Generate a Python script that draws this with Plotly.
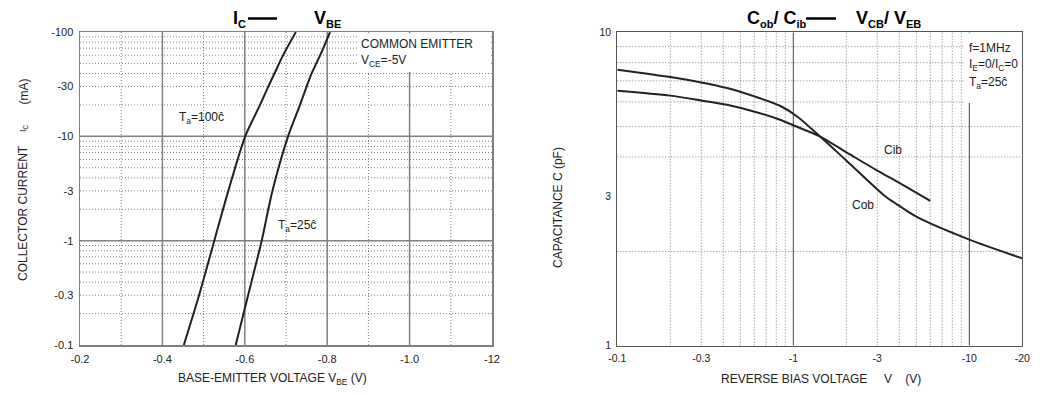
import math
import plotly.graph_objects as go

W, H = 1062, 395
FONT = "Liberation Sans, Arial, sans-serif"
INK = "#222222"

# ---------------- Left chart: Ic vs VBE ----------------
ic_ma = [-0.1, -0.3, -1, -3, -10, -20, -30, -40, -60, -100]
vbe_ta100 = [-0.452, -0.489, -0.526, -0.560, -0.601, -0.637, -0.657, -0.672, -0.693, -0.724]
vbe_ta25 = [-0.578, -0.608, -0.641, -0.667, -0.705, -0.734, -0.750, -0.762, -0.783, -0.807]

vbe_tickvals = [-0.2, -0.4, -0.6, -0.8, -1.0, -1.2]
vbe_ticktext = ["-0.2", "-0.4", "-0.6", "-0.8", "-1.0", "-12"]
ic_tickvals = [-0.1, -0.3, -1, -3, -10, -30, -100]
ic_ticktext = ["-0.1", "-0.3", "-1", "-3", "-10", "-30", "-100"]

vbe_grid_solid = [-0.4, -0.6, -0.8, -1.0]
vbe_grid_dotted = [-0.3, -0.5, -0.7, -0.9, -1.1]
ic_grid_solid = [-1, -10]
ic_grid_dotted = [-0.2, -0.3, -0.4, -0.5, -0.6, -0.7, -0.8, -0.9,
                  -2, -3, -4, -5, -6, -7, -8, -9,
                  -20, -30, -40, -50, -60, -70, -80, -90]

# ---------------- Right chart: Cob / Cib vs reverse bias ----------------
vr_cob = [-0.1, -0.2, -0.3, -0.42, -0.64, -0.84, -1.06, -1.42, -2.0, -3.3, -3.9, -5.0, -10, -20]
c_cob = [7.6, 7.2, 6.92, 6.64, 6.17, 5.83, 5.37, 4.65, 3.9, 3.01, 2.82, 2.58, 2.18, 1.9]
vr_cib = [-0.1, -0.2, -0.3, -0.42, -0.64, -0.84, -1.0, -1.42, -2.11, -3.0, -4.0, -6.0]
c_cib = [6.51, 6.28, 6.06, 5.87, 5.53, 5.26, 5.05, 4.65, 4.07, 3.62, 3.31, 2.9]

vr_tickvals = [-0.1, -0.3, -1, -3, -10, -20]
vr_ticktext = ["-0.1", "-0.3", "-1", "-3", "-10", "-20"]
c_tickvals = [1, 3, 10]
c_ticktext = ["1", "3", "10"]

vr_grid_solid = [-1, -10]
vr_grid_dotted = [-0.2, -0.3, -0.4, -0.5, -0.6, -0.7, -0.8, -0.9,
                  -2, -3, -4, -5, -6, -7, -8, -9]
c_grid_dotted = [2, 4, 5, 6, 7, 8, 9]


def px(x):
    return x / W


def py(y):
    return 1 - y / H


fig = go.Figure()

curve = dict(color=INK, width=2, shape="spline", smoothing=0.8)
fig.add_trace(go.Scatter(x=vbe_ta100, y=[-v for v in ic_ma], mode="lines",
                         line=curve, xaxis="x", yaxis="y", showlegend=False, hoverinfo="skip"))
fig.add_trace(go.Scatter(x=vbe_ta25, y=[-v for v in ic_ma], mode="lines",
                         line=curve, xaxis="x", yaxis="y", showlegend=False, hoverinfo="skip"))
fig.add_trace(go.Scatter(x=[-v for v in vr_cob], y=c_cob, mode="lines",
                         line=curve, xaxis="x2", yaxis="y2", showlegend=False, hoverinfo="skip"))
fig.add_trace(go.Scatter(x=[-v for v in vr_cib], y=c_cib, mode="lines",
                         line=curve, xaxis="x2", yaxis="y2", showlegend=False, hoverinfo="skip"))

shapes = []
DOT = dict(color="#808080", width=1, dash="1px,2px")
# left grid
for v in vbe_grid_dotted:
    shapes.append(dict(type="line", xref="x", yref="y", x0=v, x1=v, y0=0.1, y1=100,
                       line=DOT, layer="below"))
for v in ic_grid_dotted:
    shapes.append(dict(type="line", xref="x", yref="y", x0=-0.2, x1=-1.2, y0=-v, y1=-v,
                       line=DOT, layer="below"))
for v in vbe_grid_solid:
    shapes.append(dict(type="line", xref="x", yref="y", x0=v, x1=v, y0=0.1, y1=100,
                       line=dict(color="#808080", width=1.5), layer="below"))
for v in ic_grid_solid:
    shapes.append(dict(type="line", xref="x", yref="y", x0=-0.2, x1=-1.2, y0=-v, y1=-v,
                       line=dict(color="#808080", width=1.5), layer="below"))
# right grid
for v in vr_grid_dotted:
    shapes.append(dict(type="line", xref="x2", yref="y2", x0=-v, x1=-v, y0=1, y1=10,
                       line=DOT, layer="below"))
for v in c_grid_dotted:
    shapes.append(dict(type="line", xref="x2", yref="y2", x0=0.1, x1=20, y0=v, y1=v,
                       line=DOT, layer="below"))
for v in vr_grid_solid:
    shapes.append(dict(type="line", xref="x2", yref="y2", x0=-v, x1=-v, y0=1, y1=10,
                       line=dict(color="#444444", width=1), layer="below"))

# white label boxes
shapes.append(dict(type="rect", xref="paper", yref="paper", x0=px(358), x1=px(490.5),
                   y0=py(72), y1=py(33.2), fillcolor="white", line=dict(width=0), layer="above"))
shapes.append(dict(type="rect", xref="paper", yref="paper", x0=px(964), x1=px(1021.3),
                   y0=py(103), y1=py(33.2), fillcolor="white", line=dict(width=0), layer="above"))
# title dashes
shapes.append(dict(type="line", xref="paper", yref="paper", x0=px(248), x1=px(277),
                   y0=py(18.5), y1=py(18.5), line=dict(color="black", width=2.5), layer="above"))
shapes.append(dict(type="line", xref="paper", yref="paper", x0=px(806), x1=px(836),
                   y0=py(18.5), y1=py(18.5), line=dict(color="black", width=2.5), layer="above"))

ann = []


def text(x, y, s, size=12, xanchor="left", bold=False, angle=0, color=INK):
    ann.append(dict(x=px(x), y=py(y), xref="paper", yref="paper", text=s, showarrow=False,
                    xanchor=xanchor, yanchor="middle", textangle=angle,
                    font=dict(family=FONT, size=size, color=color,
                              weight="bold" if bold else "normal")))


SUBT = "<sub><span style='font-size:11px'>%s</span></sub>"

# titles
text(231, 19, "I" + SUBT % "C", size=18, bold=True, color="black")
text(312, 19, "V" + SUBT % "BE", size=18, bold=True, color="black")
text(745, 19, "C" + SUBT % "ob" + "/ C" + SUBT % "ib", size=18, bold=True, color="black")
text(854, 19, "V" + SUBT % "CB" + "/ V" + SUBT % "EB", size=18, bold=True, color="black")

# left notes
text(359, 44, "COMMON EMITTER", size=12)
text(359, 61, "V<sub>CE</sub>=-5V", size=12)
text(177, 118, "T<sub>a</sub>=100ĉ", size=12)
text(276, 226, "T<sub>a</sub>=25ĉ", size=12)

# right notes
text(967, 48, "f=1MHz", size=12)
text(967, 65, "I<sub>E</sub>=0/I<sub>C</sub>=0", size=12)
text(967, 83, "T<sub>a</sub>=25ĉ", size=12)
text(882, 150, "Cib", size=12)
text(850, 205, "Cob", size=12)

# axis titles
text(272, 379, "BASE-EMITTER VOLTAGE V<sub>BE</sub> (V)", size=12, xanchor="center")
text(821, 379, "REVERSE BIAS VOLTAGE\u00a0\u00a0\u00a0\u00a0\u00a0V\u00a0\u00a0\u00a0\u00a0(V)",
     size=12, xanchor="center")
text(23, 213, "COLLECTOR CURRENT", size=12, xanchor="center", angle=-90)
text(24, 128, "I<sub>C</sub>", size=9, xanchor="center", angle=-90)
text(23, 91.5, "(mA)", size=12, xanchor="center", angle=-90)
text(558, 208, "CAPACITANCE C (pF)", size=12, xanchor="center", angle=-90)

axis_common = dict(showgrid=False, zeroline=False, showline=True, mirror=True,
                   ticks="", automargin=False, tickmode="array", fixedrange=True)

fig.update_layout(
    width=W, height=H,
    margin=dict(l=0, r=0, t=0, b=0, autoexpand=False),
    paper_bgcolor="white", plot_bgcolor="white",
    shapes=shapes, annotations=ann,
    font=dict(family=FONT, color=INK),
    hovermode=False,
    xaxis=dict(domain=[px(80), px(492)], anchor="y", range=[-0.2, -1.2],
               tickvals=vbe_tickvals, ticktext=vbe_ticktext,
               linecolor="#808080", linewidth=1.5, ticklabelstandoff=3,
               tickfont=dict(size=11, color=INK, family=FONT), **axis_common),
    yaxis=dict(domain=[py(345), py(32)], anchor="x", type="log", range=[-1, 2],
               tickvals=[-v for v in ic_tickvals], ticktext=ic_ticktext,
               linecolor="#808080", linewidth=1.5, ticklabelstandoff=3,
               tickfont=dict(size=11, color=INK, family=FONT), **axis_common),
    xaxis2=dict(domain=[px(617.3), px(1022.3)], anchor="y2", type="log",
                range=[-1, math.log10(20)],
                tickvals=[-v for v in vr_tickvals], ticktext=vr_ticktext,
                linecolor="#555555", linewidth=1, ticklabelstandoff=3,
                tickfont=dict(size=10.5, color=INK, family=FONT), **axis_common),
    yaxis2=dict(domain=[py(345.7), py(32.3)], anchor="x2", type="log", range=[0, 1],
                tickvals=c_tickvals, ticktext=c_ticktext,
                linecolor="#555555", linewidth=1, ticklabelstandoff=3,
                tickfont=dict(size=10.5, color=INK, family=FONT), **axis_common),
)

fig.write_html("out.html", config={"displayModeBar": False, "staticPlot": True},
               post_script="document.body.style.margin='0';document.body.style.padding='0';"
                           "document.body.style.overflow='hidden';")
